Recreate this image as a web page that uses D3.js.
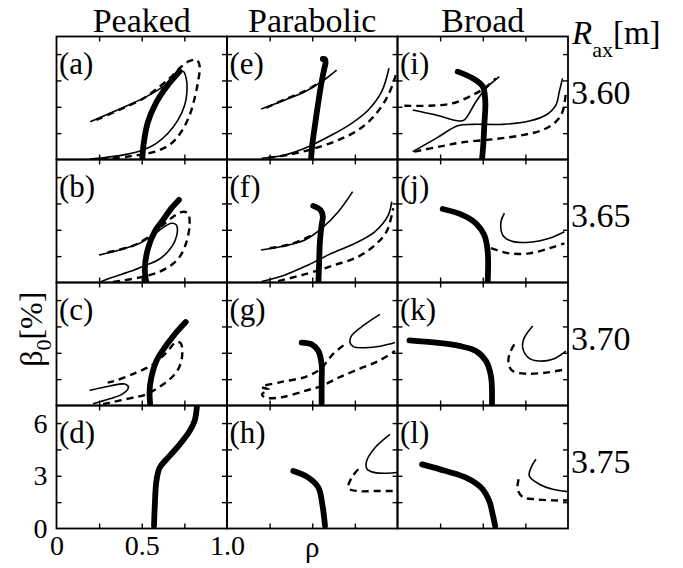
<!DOCTYPE html>
<html lang="en">
<head>
<meta charset="UTF-8">
<title>Beta profiles vs R_ax</title>
<style>
  body { margin: 0; background: #fff; }
</style>
</head>
<body>
<svg id="chart" width="683" height="568"></svg>
<script src="https://d3js.org/d3.v7.min.js"></script>
<script>
// column / row labels
const profiles = ["Peaked", "Parabolic", "Broad"];
const raxValues = ["3.60", "3.65", "3.70", "3.75"];
const letters = ["a", "b", "c", "d", "e", "f", "g", "h", "i", "j", "k", "l"];
const xTickLabels = [[0, "0"], [0.5, "0.5"], [1, "1.0"]];
const yTickLabels = [0, 3, 6];

// curves, [rho, beta0] ; thick = one path, thin/dash = list of paths
const thickA = [[0.503,0],[0.510,0.8],[0.535,2.1],[0.585,3.25],[0.65,4.2],[0.722,5.02]];
const thinA = [[[0.198,2.15],[0.371,2.87],[0.527,3.58],[0.625,4.15],[0.693,4.72],[0.725,5.0],[0.745,5.0],[0.762,4.55],[0.765,3.86],[0.752,3.10],[0.713,2.25],[0.654,1.49],[0.586,0.92],[0.507,0.54],[0.41,0.29],[0.292,0.12],[0.195,0.01]]];
const dashA = [[[0.234,2.25],[0.371,2.84],[0.507,3.46],[0.605,4.15],[0.674,4.72],[0.732,5.28],[0.781,5.61],[0.824,5.66],[0.84,5.28],[0.83,4.43],[0.81,3.48],[0.781,2.53],[0.732,1.58],[0.674,0.92],[0.605,0.54],[0.527,0.33],[0.41,0.16],[0.273,0.03]]];

const thickB = [[0.527,0],[0.518,0.8],[0.537,1.95],[0.576,2.9],[0.625,3.56],[0.673,4.22],[0.718,4.7]];
const thinB = [[[0.249,1.56],[0.371,1.85],[0.488,2.23],[0.566,2.7],[0.625,3.12],[0.674,3.37],[0.703,3.27],[0.709,2.9],[0.693,2.33],[0.654,1.76],[0.595,1.28],[0.527,1.0],[0.429,0.62],[0.312,0.24],[0.26,0.05]]];
const dashB = [[[0.30,1.72],[0.45,2.1],[0.56,2.72],[0.64,3.4],[0.70,3.85],[0.74,4.02],[0.771,3.94],[0.781,3.35],[0.762,2.3],[0.723,1.47],[0.674,1.0],[0.605,0.62],[0.507,0.33],[0.371,0.09],[0.30,0.0]]];

const thickC = [[0.55,0],[0.546,0.83],[0.556,1.58],[0.586,2.53],[0.634,3.29],[0.693,4.05],[0.758,4.75]];
const thinC = [[[0.195,0.86],[0.312,1.11],[0.40,1.22],[0.422,1.05],[0.39,0.68],[0.312,0.38],[0.214,0.1]]];
const dashC = [[[0.273,0.08],[0.429,0.41],[0.527,0.64],[0.625,1.2],[0.684,1.68],[0.723,2.25],[0.738,3.0],[0.728,3.55],[0.70,3.6],[0.644,3.0],[0.566,2.34],[0.468,1.87],[0.342,1.4],[0.30,1.3]]];

const thickD = [[0.572,0.14],[0.576,1.19],[0.586,2.7],[0.605,3.46],[0.654,4.03],[0.723,4.79],[0.781,5.55],[0.81,6.12],[0.824,7.0]];
const thinD = [];
const dashD = [];

const thickE = [[0.493,0],[0.5,0.83],[0.516,1.96],[0.536,3.29],[0.555,4.43],[0.571,5.19],[0.578,5.5],[0.575,5.7],[0.562,5.72]];
const thinE = [[[0.2,2.87],[0.34,3.39],[0.457,3.86],[0.555,4.43],[0.643,5.09]],
               [[0.203,0.07],[0.34,0.26],[0.477,0.73],[0.614,1.39],[0.731,2.06],[0.829,2.82],[0.907,3.86],[0.95,5.19]]];
const dashE = [[[0.23,2.95],[0.34,3.42],[0.457,3.9],[0.555,4.45]],
               [[0.242,0.1],[0.379,0.3],[0.516,0.64],[0.653,1.11],[0.77,1.68],[0.868,2.53],[0.946,3.67],[0.99,4.81]]];

const thickF = [[0.536,0],[0.54,1.0],[0.545,2.33],[0.555,3.27],[0.562,3.75],[0.548,4.13],[0.506,4.36]];
const thinF = [[[0.2,1.85],[0.32,2.05],[0.457,2.42],[0.555,3.08],[0.653,4.03],[0.737,5.17]],
               [[0.203,0.05],[0.34,0.43],[0.477,1.0],[0.614,1.66],[0.751,2.23],[0.868,2.9],[0.946,3.84],[0.966,4.6]]];
const dashF = [[[0.25,1.95],[0.38,2.2],[0.5,2.7]],
               [[0.3,0.08],[0.477,0.52],[0.633,1.0],[0.77,1.47],[0.868,2.13],[0.936,2.9],[0.975,4.22]]];

const thickG = [[0.438,3.58],[0.497,3.48],[0.536,3.1],[0.555,2.34],[0.555,1.39],[0.555,0.16]];
const thinG = [[[0.897,5.19],[0.809,4.62],[0.73,3.96],[0.721,3.6],[0.741,3.35],[0.81,3.29],[0.907,3.39],[0.985,3.58]]];
const dashG = [[[0.683,3.42],[0.624,2.95],[0.545,2.06],[0.457,1.62],[0.32,1.34],[0.203,1.05],[0.245,0.9],[0.205,0.65],[0.223,0.45],[0.32,0.47],[0.457,0.83],[0.555,1.11],[0.653,1.58],[0.77,2.06],[0.888,2.53],[0.985,3.1]]];

const thickH = [[0.389,3.27],[0.477,2.9],[0.536,2.33],[0.559,1.38],[0.575,0.14]];
const thinH = [[[0.956,5.36],[0.868,4.6],[0.819,3.84],[0.822,3.37],[0.868,3.18],[0.966,3.16],[1.0,3.2]]];
const dashH = [[[0.77,3.37],[0.731,2.9],[0.712,2.29],[0.77,2.13],[0.868,2.13],[0.985,2.13]]];

const thickI = [[0.353,5.0],[0.441,4.62],[0.5,4.15],[0.515,3.29],[0.509,1.96],[0.503,0.83],[0.496,0.03]];
const thinI = [[[0.089,2.82],[0.226,2.53],[0.363,2.19],[0.392,2.25],[0.46,3.29],[0.519,4.05],[0.597,4.72]],
               [[0.089,0.45],[0.226,1.2],[0.353,1.92],[0.441,2.0],[0.617,2.0],[0.773,2.19],[0.871,2.53],[0.929,3.1],[0.949,3.86],[0.968,4.62]]];
const dashI = [[[0.04,3.06],[0.187,3.06],[0.324,3.2],[0.441,3.67],[0.509,4.05],[0.578,4.62]],
               [[0.099,0.45],[0.245,0.73],[0.382,0.98],[0.577,1.17],[0.734,1.39],[0.851,1.68],[0.929,2.15],[0.968,2.72],[0.988,3.86]]];

const thickJ = [[0.265,4.18],[0.382,3.84],[0.46,3.37],[0.509,2.7],[0.529,1.76],[0.529,0]];
const thinJ = [[[0.627,3.94],[0.607,3.46],[0.617,2.7],[0.666,2.36],[0.773,2.29],[0.891,2.52],[0.979,2.89]]];
const dashJ = [[[0.548,1.95],[0.656,1.66],[0.773,1.66],[0.891,1.95],[0.979,2.23]]];

const thickK = [[0.07,3.71],[0.226,3.58],[0.363,3.39],[0.46,3.1],[0.519,2.53],[0.548,1.68],[0.554,0.03]];
const thinK = [[[0.793,4.53],[0.744,3.86],[0.734,3.29],[0.773,2.68],[0.832,2.53],[0.91,2.63],[0.988,3.1]]];
const dashK = [[[0.685,3.48],[0.656,2.91],[0.652,2.34],[0.676,1.96],[0.754,1.81],[0.871,1.87],[0.988,2.06]]];

const thickL = [[0.144,3.65],[0.284,3.27],[0.402,2.9],[0.49,2.33],[0.538,1.57],[0.558,0.81],[0.573,0.14]];
const thinL = [[[0.812,3.94],[0.783,3.46],[0.773,2.99],[0.832,2.52],[0.91,2.23],[0.998,2.1]]];
const dashL = [[[0.71,2.8],[0.705,2.23],[0.734,1.79],[0.812,1.66],[0.91,1.6],[0.998,1.6]]];

// panels ordered column by column (a-d peaked, e-h parabolic, i-l broad)
const thickAll = [thickA, thickB, thickC, thickD, thickE, thickF, thickG, thickH, thickI, thickJ, thickK, thickL];
const thinAll  = [thinA, thinB, thinC, thinD, thinE, thinF, thinG, thinH, thinI, thinJ, thinK, thinL];
const dashAll  = [dashA, dashB, dashC, dashD, dashE, dashF, dashG, dashH, dashI, dashJ, dashK, dashL];

const gridLeft = 56.5, gridTop = 36.5, pw = 170.5, ph = 123;
const serif = '"Liberation Serif", "Times New Roman", Times, serif';

const svg = d3.select("#chart");

const x = d3.scaleLinear().domain([0, 1]).range([0, pw]);
const y = d3.scaleLinear().domain([0, 7]).range([ph, 0]);
const line = d3.line().x(d => x(d[0])).y(d => y(d[1])).curve(d3.curveCatmullRom.alpha(0.5));

function label(sel, size) {
    return sel.attr("font-family", serif).style("font-family", serif)
        .style("font-size", size + "px").attr("fill", "#000");
}

letters.forEach((letter, i) => {
    const col = Math.floor(i / 4), row = i % 4;
    const g = svg.append("g")
        .attr("transform", `translate(${gridLeft + col * pw}, ${gridTop + row * ph})`);

    g.append("clipPath").attr("id", "clip" + i)
        .append("rect").attr("width", pw).attr("height", ph);

    const plot = g.append("g").attr("clip-path", `url(#clip${i})`);

    thinAll[i].forEach(seg => {
        plot.append("path").attr("d", line(seg))
            .attr("fill", "none").attr("stroke", "#000").attr("stroke-width", 1.6);
    });
    dashAll[i].forEach(seg => {
        plot.append("path").attr("d", line(seg))
            .attr("fill", "none").attr("stroke", "#000").attr("stroke-width", 2.4)
            .attr("stroke-dasharray", "7,5");
    });
    plot.append("path").attr("d", line(thickAll[i]))
        .attr("fill", "none").attr("stroke", "#000").attr("stroke-width", 5.8)
        .attr("stroke-linecap", "round");

    // inward ticks on all four sides
    const xt = [0.25, 0.5, 0.75], yt = [1.5, 3, 4.5, 6];
    g.append("g").attr("transform", `translate(0,${ph})`)
        .call(d3.axisBottom(x).tickValues(xt).tickSize(-5).tickFormat(""));
    g.append("g")
        .call(d3.axisTop(x).tickValues(xt).tickSize(-5).tickFormat(""));
    g.append("g")
        .call(d3.axisLeft(y).tickValues(yt).tickSize(-5).tickFormat(""));
    g.append("g").attr("transform", `translate(${pw},0)`)
        .call(d3.axisRight(y).tickValues(yt).tickSize(-5).tickFormat(""));
    g.selectAll(".domain").remove();
    g.selectAll(".tick line").attr("stroke-width", 1.4);

    g.append("rect").attr("width", pw).attr("height", ph)
        .attr("fill", "none").attr("stroke", "#000").attr("stroke-width", 1.8);

    label(g.append("text").attr("x", 2.5).attr("y", 37), 31).text(`(${letter})`);

    // outer tick labels
    if (col === 0 && row === 3) {
        const xa = g.append("g").attr("transform", `translate(0,${ph})`)
            .call(d3.axisBottom(x).tickValues(xTickLabels.map(d => d[0])).tickSize(0).tickPadding(7)
                .tickFormat((d, k) => xTickLabels[k][1]));
        xa.select(".domain").remove();
        label(xa.selectAll("text"), 28);
        const ya = g.append("g")
            .call(d3.axisLeft(y).tickValues(yTickLabels).tickSize(0).tickPadding(9)
                .tickFormat(d3.format("d")));
        ya.select(".domain").remove();
        label(ya.selectAll("text"), 28);
    }
});

// column titles
profiles.forEach((p, c) => {
    label(svg.append("text").attr("x", gridLeft + (c + 0.5) * pw).attr("y", 32)
        .attr("text-anchor", "middle"), 34).text(p);
});

// row labels
raxValues.forEach((r, k) => {
    label(svg.append("text").attr("x", gridLeft + 3 * pw + 3).attr("y", gridTop + k * ph + 67), 34).text(r);
});

// R_ax[m]
const rt = label(svg.append("text").attr("x", gridLeft + 3 * pw + 4).attr("y", 44), 33);
rt.append("tspan").style("font-style", "italic").text("R");
rt.append("tspan").attr("dy", 13).style("font-size", "22px").text("ax");
rt.append("tspan").attr("dy", -13).text("[m]");

// rho label
label(svg.append("text").attr("x", gridLeft + 1.5 * pw).attr("y", 557)
    .attr("text-anchor", "middle"), 29).text("ρ");

// beta0 label
const bt = label(svg.append("text")
    .attr("transform", `translate(42, ${gridTop + 2.38 * ph}) rotate(-90)`)
    .attr("text-anchor", "middle"), 32);
bt.append("tspan").text("β");
bt.append("tspan").attr("dy", 9).style("font-size", "22px").text("0");
bt.append("tspan").attr("dy", -9).text("[%]");
</script>
</body>
</html>
